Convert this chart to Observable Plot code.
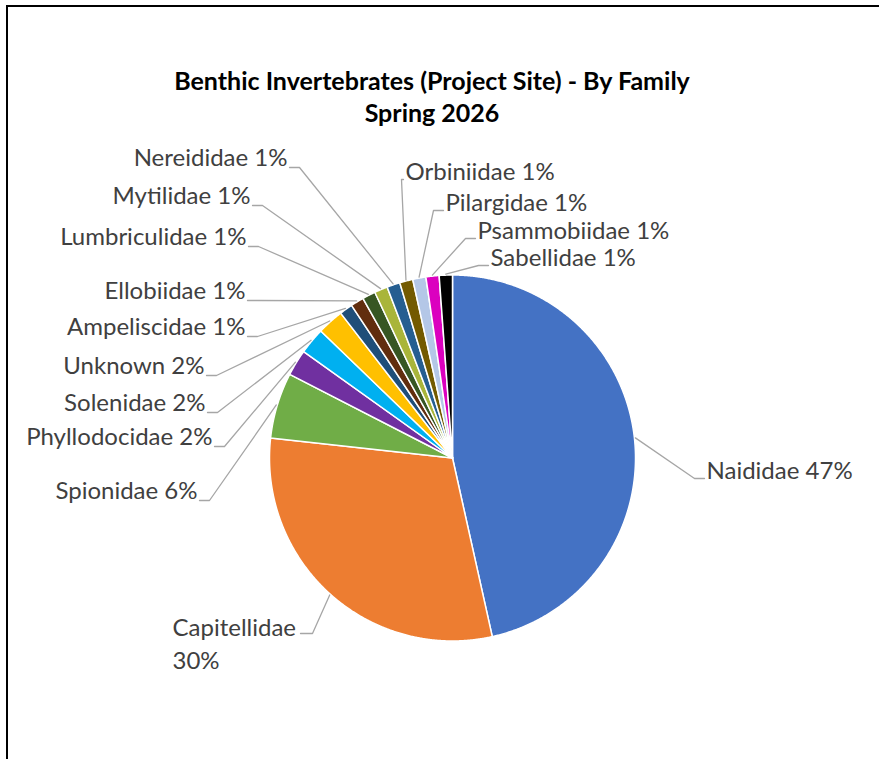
<!DOCTYPE html>
<html><head><meta charset="utf-8">
<script src="https://cdn.jsdelivr.net/npm/d3@7"></script>
<script src="https://cdn.jsdelivr.net/npm/@observablehq/plot@0.6"></script>
<style>
html,body{margin:0;padding:0;background:#fff;}
#wrap{position:relative;width:879px;height:759px;overflow:hidden;}
#frame{position:absolute;left:6px;top:5px;right:-10px;bottom:-10px;border-left:2px solid #000;border-top:2px solid #000;}
#chart{position:absolute;left:0;top:0;}
#title{position:absolute;left:0;width:864px;top:64px;text-align:center;font-family:Lato,"Open Sans",sans-serif;font-weight:bold;font-size:25px;line-height:32px;color:#000;}
</style></head><body>
<div id="wrap"><div id="frame"></div><div id="chart"></div><div id="title"></div></div>
<script>
// ---- data ----
const titleLines = ["Benthic Invertebrates (Project Site) - By Family", "Spring 2026"];
const families = ["Naididae","Capitellidae","Spionidae","Phyllodocidae","Solenidae","Unknown","Ampeliscidae","Ellobiidae","Lumbriculidae","Mytilidae","Nereididae","Orbiniidae","Pilargidae","Psammobiidae","Sabellidae"];
const counts = [40,26,5,2,2,2,1,1,1,1,1,1,1,1,1];
const colors = ["#4472C4","#ED7D31","#70AD47","#7030A0","#00B0F0","#FFC000","#1F4E79","#612D0E","#375623","#A9B53A","#255E91","#735A00","#B4C7E7","#DB00BF","#000000"];

// ---- label layout (text anchor points) ----
const labelLayout = [
  {name:"Naididae", x:706, y:471, side:"right"},
  {name:"Capitellidae", x:172, y:641.5, side:"right", wrap:true, hook:[300,633], elbow:[312,633]},
  {name:"Spionidae", x:197, y:491, side:"left"},
  {name:"Phyllodocidae", x:212, y:437, side:"left"},
  {name:"Solenidae", x:205, y:403, side:"left"},
  {name:"Unknown", x:204, y:366, side:"left"},
  {name:"Ampeliscidae", x:245, y:327, side:"left"},
  {name:"Ellobiidae", x:245, y:291, side:"left"},
  {name:"Lumbriculidae", x:246, y:237, side:"left"},
  {name:"Mytilidae", x:250, y:196, side:"left"},
  {name:"Nereididae", x:287, y:158, side:"left"},
  {name:"Orbiniidae", x:405, y:172, side:"right", elbowLen:2},
  {name:"Pilargidae", x:445, y:203, side:"right"},
  {name:"Psammobiidae", x:477, y:231, side:"right"},
  {name:"Sabellidae", x:490, y:258, side:"right"}
];

// ---- geometry constants ----
const cx = 452, cy = 457.5, R = 183;

document.getElementById("title").innerHTML = titleLines.join("<br>");

const total = d3.sum(counts);
const rows = families.map((f, i) => ({name: f, count: counts[i], color: colors[i], pct: Math.round(counts[i] / total * 100)}));
const arcs = d3.pie().sort(null).value(d => d.count).startAngle(0).endAngle(2 * Math.PI)(rows);

const pt = (a, r) => [cx + r * Math.sin(a), cy - r * Math.cos(a)];

// slice polygons
const slicePts = [];
arcs.forEach(a => {
  const n = Math.max(4, Math.ceil((a.endAngle - a.startAngle) / 0.005));
  slicePts.push({name: a.data.name, color: a.data.color, p: [cx, cy]});
  for (let k = 0; k <= n; k++) {
    const ang = a.startAngle + (a.endAngle - a.startAngle) * k / n;
    slicePts.push({name: a.data.name, color: a.data.color, p: pt(ang, R)});
  }
  slicePts.push({name: a.data.name, color: a.data.color, p: [cx, cy]});
});

// leaders and labels
const leaderPts = [];
const labelsL = [], labelsR = [], labelsW = [];
labelLayout.forEach(L => {
  const a = arcs.find(d => d.data.name === L.name);
  const mid = (a.startAngle + a.endAngle) / 2;
  const e = pt(mid, R + 1);
  const len = L.elbowLen ?? 10;
  let hook, elbow;
  if (L.hook) { hook = L.hook; elbow = L.elbow; }
  else if (L.side === "left") { hook = [L.x + 2, L.y + 9]; elbow = [L.x + 2 + len, L.y + 9]; }
  else { hook = [L.x - 2, L.y + 7]; elbow = [L.x - 2 - len, L.y + 7]; }
  [e, elbow, hook].forEach(p => leaderPts.push({name: L.name, p}));
  const txt = L.wrap ? `${a.data.name}\n${a.data.pct}%` : `${a.data.name} ${a.data.pct}%`;
  const rec = {x: L.x, y: L.y, text: txt};
  if (L.wrap) labelsW.push(rec); else if (L.side === "left") labelsL.push(rec); else labelsR.push(rec);
});

const font = "Lato, 'Open Sans', sans-serif";
const fs = 24;
const chart = Plot.plot({
  width: 879, height: 759, margin: 0,
  x: {domain: [0, 879], range: [0, 879], axis: null},
  y: {domain: [0, 759], range: [0, 759], axis: null},
  color: {type: "identity"},
  style: {background: "transparent", overflow: "visible"},
  marks: [
    Plot.line(slicePts, {x: d => d.p[0], y: d => d.p[1], z: "name", fill: "color", stroke: "#fff", strokeWidth: 1.5, strokeLinejoin: "round"}),
    Plot.line(leaderPts, {x: d => d.p[0], y: d => d.p[1], z: "name", stroke: "#A6A6A6", strokeWidth: 1.3}),
    Plot.text(labelsL, {x: "x", y: "y", text: "text", textAnchor: "end", lineAnchor: "middle", fontSize: fs, fontFamily: font, fill: "#404040"}),
    Plot.text(labelsR, {x: "x", y: "y", text: "text", textAnchor: "start", lineAnchor: "middle", fontSize: fs, fontFamily: font, fill: "#404040"}),
    Plot.text(labelsW, {x: "x", y: "y", text: "text", textAnchor: "start", lineAnchor: "middle", lineHeight: 1.375, fontSize: fs, fontFamily: font, fill: "#404040"})
  ]
});
document.getElementById("chart").appendChild(chart);
</script>
</body></html>
